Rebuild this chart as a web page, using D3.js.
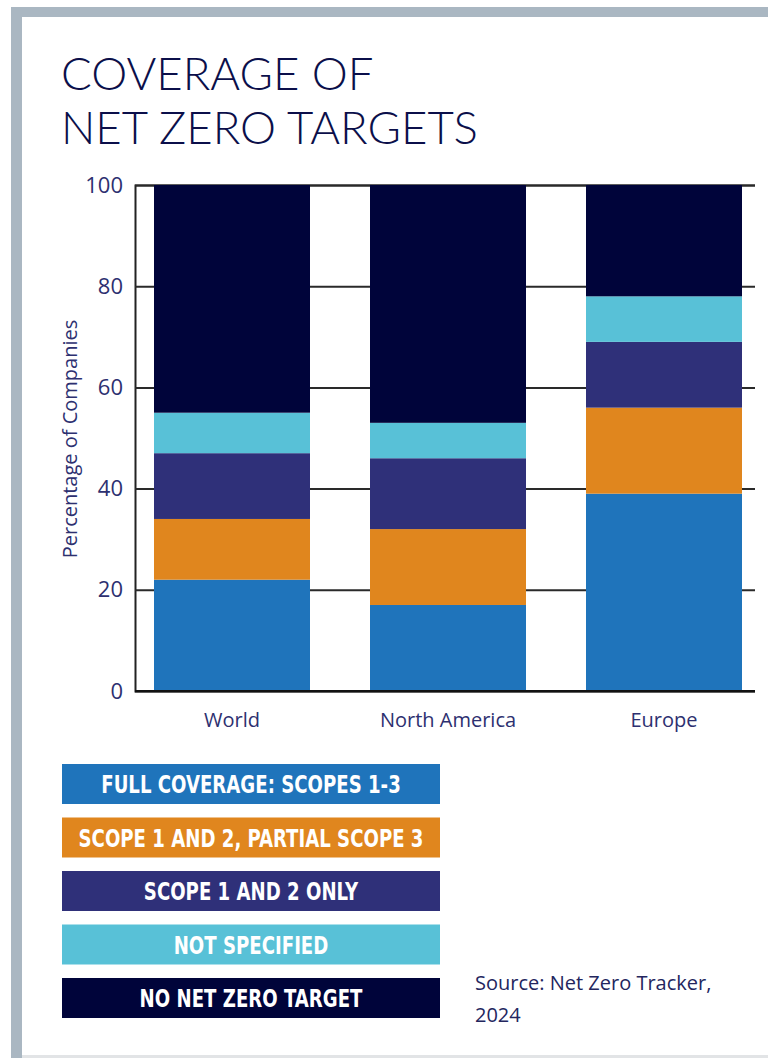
<!DOCTYPE html>
<html>
<head>
<meta charset="utf-8">
<script src="https://cdn.jsdelivr.net/npm/d3@7"></script>
<style>
  body { margin: 0; background: #fff; }
  svg { display: block; }
</style>
</head>
<body>
<div id="chart"></div>
<script>
// data
var regions = ["World", "North America", "Europe"];
var seriesKeys = ["full", "partial", "scope12", "notSpecified", "noTarget"];
var seriesLabels = ["FULL COVERAGE: SCOPES 1-3", "SCOPE 1 AND 2, PARTIAL SCOPE 3", "SCOPE 1 AND 2 ONLY", "NOT SPECIFIED", "NO NET ZERO TARGET"];
var seriesColors = ["#1f74bb", "#e0861e", "#2f3079", "#58c1d7", "#00043a"];
var fullCoverage = [22, 17, 39];
var partialScope3 = [12, 15, 17];
var scope12Only = [13, 14, 13];
var notSpecified = [8, 7, 9];
var noTarget = [45, 47, 22];
var yTicks = [0, 20, 40, 60, 80, 100];

var rows = regions.map(function(r, i) {
    return { region: r, full: fullCoverage[i], partial: partialScope3[i], scope12: scope12Only[i],
             notSpecified: notSpecified[i], noTarget: noTarget[i] };
});

var W = 768, H = 1058;
var svg = d3.select("#chart").append("svg").attr("width", W).attr("height", H);

// frame
svg.append("rect").attr("x", 11).attr("y", 7).attr("width", W - 11).attr("height", 10).attr("fill", "#aab7c2");
svg.append("rect").attr("x", 11).attr("y", 7).attr("width", 11).attr("height", H - 7).attr("fill", "#aab7c2");
svg.append("rect").attr("x", 22).attr("y", 1055).attr("width", W - 22).attr("height", 3).attr("fill", "#e2e4e6");

// title
var title = svg.append("text").attr("fill", "#0b0f4a")
    .style("font-family", "Lato").style("font-weight", 300).style("font-size", "45.5px");
title.append("tspan").attr("x", 61).attr("y", 90).text("COVERAGE OF");
title.append("tspan").attr("x", 61).attr("y", 144).text("NET ZERO TARGETS");

var margin = {left: 135, top: 185, right: 755, bottom: 691};

// bars sit at 154-310, 370-526, 586-742
var x = d3.scaleBand().domain(regions).range([94, 802]).padding(0.2778);
var y = d3.scaleLinear().domain([0, 100]).range([margin.bottom, margin.top]);

// grid lines
var yAxis = d3.axisLeft(y).tickValues(yTicks).tickSize(-(margin.right - margin.left)).tickPadding(12);
var gy = svg.append("g").attr("transform", "translate(" + margin.left + ",0)").call(yAxis);
gy.select(".domain").attr("stroke", "#222").attr("stroke-width", 2);
gy.selectAll(".tick line").attr("stroke", "#2a2a2a").attr("stroke-width", 2);
gy.selectAll(".tick text").attr("fill", "#2d3070")
    .style("font-family", "Open Sans").style("font-size", "22px");

// stacked bars
var stack = d3.stack().keys(seriesKeys);
var layers = stack(rows);
svg.append("g").selectAll("g").data(layers).enter().append("g")
    .attr("fill", function(d, i) { return seriesColors[i]; })
    .selectAll("rect").data(function(d) { return d; }).enter().append("rect")
    .attr("x", function(d) { return x(d.data.region); })
    .attr("width", x.bandwidth())
    .attr("y", function(d) { return y(d[1]); })
    .attr("height", function(d) { return y(d[0]) - y(d[1]); });

// baseline
svg.append("line").attr("x1", margin.left).attr("x2", margin.right)
    .attr("y1", y(0)).attr("y2", y(0)).attr("stroke", "#111").attr("stroke-width", 2);

// category labels
svg.append("g").selectAll("text").data(regions).enter().append("text")
    .attr("x", function(d) { return x(d) + x.bandwidth() / 2; })
    .attr("y", 727).attr("text-anchor", "middle").attr("fill", "#2d3070")
    .style("font-family", "Open Sans").style("font-size", "20px")
    .text(function(d) { return d; });

// y axis title
svg.append("text").attr("transform", "translate(77,439) rotate(-90)")
    .attr("text-anchor", "middle").attr("fill", "#2d3070")
    .style("font-family", "Open Sans").style("font-size", "20px")
    .text("Percentage of Companies");

// legend
var legend = svg.append("g").selectAll("g").data(seriesLabels).enter().append("g")
    .attr("transform", function(d, i) { return "translate(62," + (764 + i * 53.5) + ")"; });
legend.append("rect").attr("width", 378).attr("height", 40)
    .attr("fill", function(d, i) { return seriesColors[i]; });
legend.append("text").attr("transform", "translate(189,29) scale(0.84,1)").attr("text-anchor", "middle")
    .attr("fill", "#fff").style("font-family", "DejaVu Sans Condensed").style("font-weight", "bold")
    .style("font-size", "24px").text(function(d) { return d; });

// source
var src = svg.append("text").attr("fill", "#23265e")
    .style("font-family", "Open Sans").style("font-size", "20px");
src.append("tspan").attr("x", 475).attr("y", 990).text("Source: Net Zero Tracker,");
src.append("tspan").attr("x", 475).attr("y", 1022).text("2024");
</script>
</body>
</html>
